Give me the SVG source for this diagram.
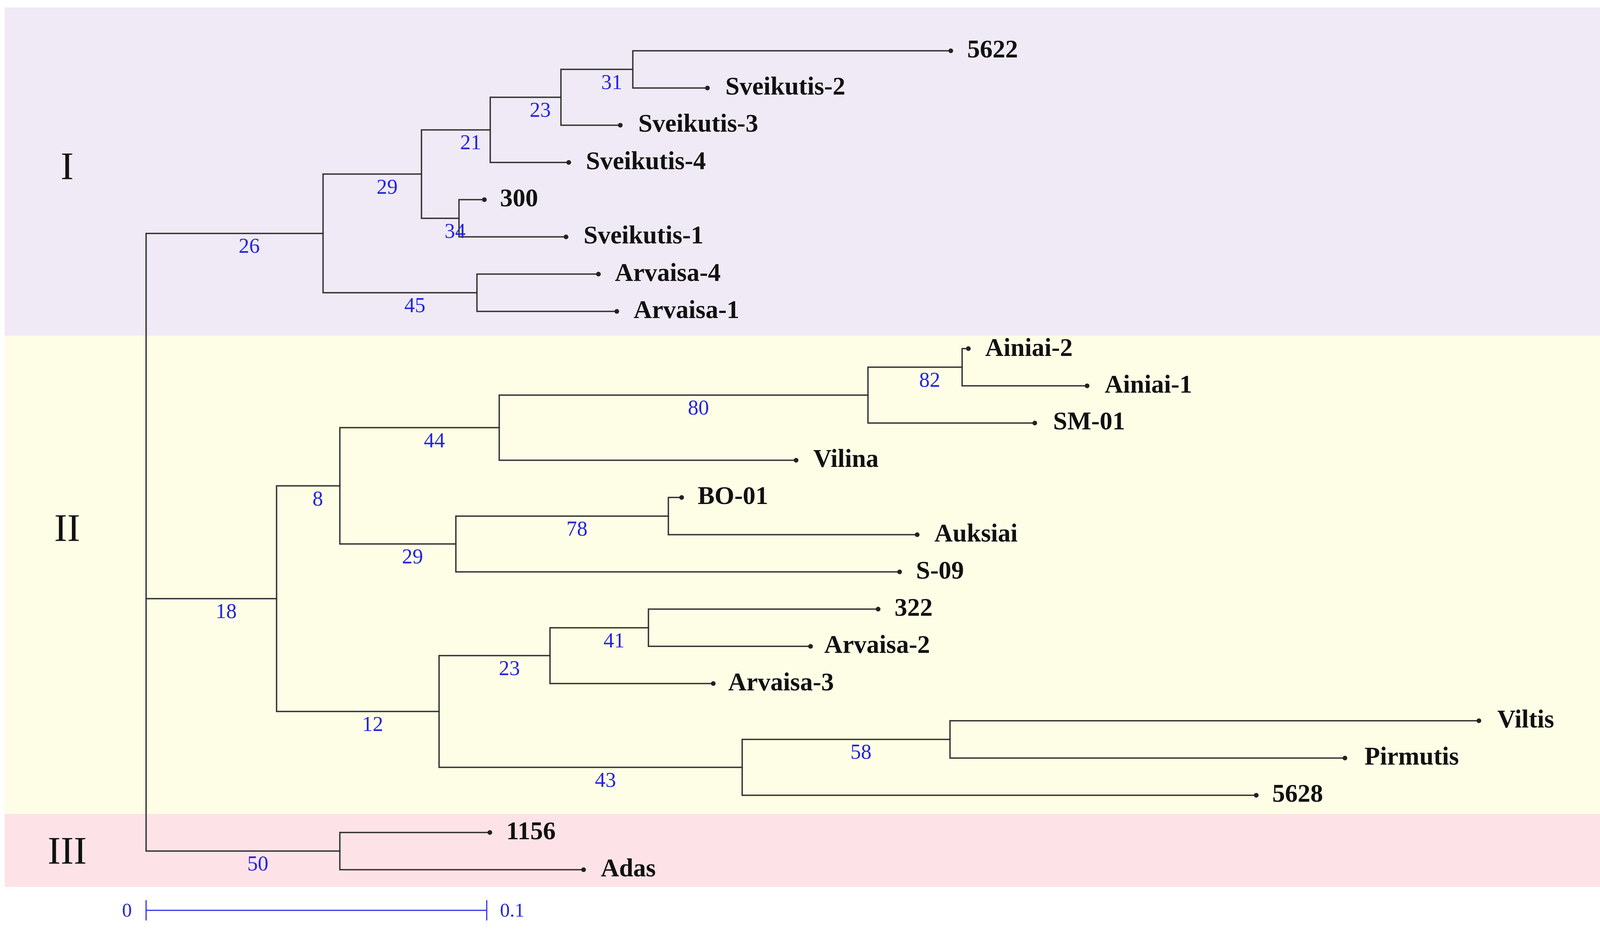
<svg xmlns="http://www.w3.org/2000/svg" width="4123" height="2388" viewBox="0 0 4123 2388">
<style>
.br{fill:none;stroke:#333333;stroke-width:3.5;stroke-linecap:square;stroke-linejoin:miter}
.dot{fill:#222222}
.leaf{font-family:"Liberation Serif","Times New Roman",serif;font-weight:bold;font-size:65px;fill:#111111}
.bs{font-family:"Liberation Serif","Times New Roman",serif;font-size:54px;fill:#2424dd}
.clade{font-family:"Liberation Serif","Times New Roman",serif;font-size:100px;fill:#111111;text-anchor:middle}
.scale{stroke:#3030ee;stroke-width:3;fill:none}
.sl{font-family:"Liberation Serif","Times New Roman",serif;font-size:50px;fill:#2424dd}
</style>
<rect x="0" y="0" width="4123" height="2388" fill="#ffffff"/>
<g id="bands">
<rect x="12" y="19" width="4102" height="840" fill="#EFEAF5"/>
<rect x="12" y="859" width="4102" height="1224" fill="#FEFEE6"/>
<rect x="12" y="2083" width="4102" height="187" fill="#FDE3E7"/>
</g>
<g id="clade-labels">
<text class="clade" x="172" y="458">I</text>
<text class="clade" x="172" y="1384">II</text>
<text class="clade" x="172" y="2210">III</text>
</g>
<g id="connectors">
<path class="br" d="M827 597.4 H374 V2178.3 H870 M374 1532.3 H708"/>
<path class="br" d="M2434 130 H1620 V225.27 H1811"/>
<path class="br" d="M1620 177.6 H1436 V320.54 H1588"/>
<path class="br" d="M1436 249.1 H1255 V415.81 H1456"/>
<path class="br" d="M1240 511.08 H1175 V606.35 H1449"/>
<path class="br" d="M1255 332.4 H1079 V558.7 H1175"/>
<path class="br" d="M1532 701.62 H1221 V796.89 H1579"/>
<path class="br" d="M1079 445.6 H827 V749.3 H1221"/>
<path class="br" d="M2479 892.16 H2463 V987.43 H2783"/>
<path class="br" d="M2463 939.8 H2222 V1082.7 H2649"/>
<path class="br" d="M2222 1011.2 H1278 V1177.97 H2038"/>
<path class="br" d="M1745 1273.24 H1711 V1368.51 H2348"/>
<path class="br" d="M1711 1320.9 H1167 V1463.78 H2303"/>
<path class="br" d="M1278 1094.6 H870 V1392.3 H1167"/>
<path class="br" d="M2248 1559.05 H1660 V1654.32 H2075"/>
<path class="br" d="M1660 1606.7 H1408 V1749.59 H1826"/>
<path class="br" d="M3786 1844.86 H2432 V1940.13 H3443"/>
<path class="br" d="M2432 1892.5 H1900 V2035.4 H3216"/>
<path class="br" d="M1408 1678.1 H1124 V1964 H1900"/>
<path class="br" d="M870 1243.5 H708 V1821 H1124"/>
<path class="br" d="M1254 2130.67 H870 V2225.94 H1494"/>
</g>
<g id="internal-nodes">
<g id="node-A"><text class="bs" x="611" y="647">26</text></g>
<g id="node-B"><text class="bs" x="964" y="496">29</text></g>
<g id="node-C"><text class="bs" x="1178" y="382">21</text></g>
<g id="node-D"><text class="bs" x="1356" y="299">23</text></g>
<g id="node-E"><text class="bs" x="1539" y="228">31</text></g>
<g id="node-F"><text class="bs" x="1138" y="609">34</text></g>
<g id="node-G"><text class="bs" x="1035" y="799">45</text></g>
<g id="node-H"><text class="bs" x="552" y="1582">18</text></g>
<g id="node-I"><text class="bs" x="800" y="1294">8</text></g>
<g id="node-J"><text class="bs" x="1085" y="1145">44</text></g>
<g id="node-K"><text class="bs" x="1761" y="1061">80</text></g>
<g id="node-L"><text class="bs" x="2353" y="990">82</text></g>
<g id="node-M"><text class="bs" x="1029" y="1442">29</text></g>
<g id="node-N"><text class="bs" x="1450" y="1371">78</text></g>
<g id="node-O"><text class="bs" x="927" y="1871">12</text></g>
<g id="node-P"><text class="bs" x="1277" y="1728">23</text></g>
<g id="node-Q"><text class="bs" x="1545" y="1657">41</text></g>
<g id="node-R"><text class="bs" x="1523" y="2014">43</text></g>
<g id="node-S"><text class="bs" x="2177" y="1942">58</text></g>
<g id="node-T"><text class="bs" x="633" y="2228">50</text></g>
</g>
<g id="leaves">
<g id="leaf-5622"><circle class="dot" cx="2434" cy="130" r="6"/><text class="leaf" x="2476" y="147">5622</text></g>
<g id="leaf-sveikutis-2"><circle class="dot" cx="1811" cy="225.27" r="6"/><text class="leaf" x="1857" y="242">Sveikutis-2</text></g>
<g id="leaf-sveikutis-3"><circle class="dot" cx="1588" cy="320.54" r="6"/><text class="leaf" x="1634" y="337">Sveikutis-3</text></g>
<g id="leaf-sveikutis-4"><circle class="dot" cx="1456" cy="415.81" r="6"/><text class="leaf" x="1500" y="433">Sveikutis-4</text></g>
<g id="leaf-300"><circle class="dot" cx="1240" cy="511.08" r="6"/><text class="leaf" x="1280" y="528">300</text></g>
<g id="leaf-sveikutis-1"><circle class="dot" cx="1449" cy="606.35" r="6"/><text class="leaf" x="1494" y="623">Sveikutis-1</text></g>
<g id="leaf-arvaisa-4"><circle class="dot" cx="1532" cy="701.62" r="6"/><text class="leaf" x="1574" y="719">Arvaisa-4</text></g>
<g id="leaf-arvaisa-1"><circle class="dot" cx="1579" cy="796.89" r="6"/><text class="leaf" x="1622" y="814">Arvaisa-1</text></g>
<g id="leaf-ainiai-2"><circle class="dot" cx="2479" cy="892.16" r="6"/><text class="leaf" x="2522" y="911">Ainiai-2</text></g>
<g id="leaf-ainiai-1"><circle class="dot" cx="2783" cy="987.43" r="6"/><text class="leaf" x="2828" y="1005">Ainiai-1</text></g>
<g id="leaf-sm-01"><circle class="dot" cx="2649" cy="1082.7" r="6"/><text class="leaf" x="2696" y="1099">SM-01</text></g>
<g id="leaf-vilina"><circle class="dot" cx="2038" cy="1177.97" r="6"/><text class="leaf" x="2082" y="1195">Vilina</text></g>
<g id="leaf-bo-01"><circle class="dot" cx="1745" cy="1273.24" r="6"/><text class="leaf" x="1786" y="1290">BO-01</text></g>
<g id="leaf-auksiai"><circle class="dot" cx="2348" cy="1368.51" r="6"/><text class="leaf" x="2392" y="1386">Auksiai</text></g>
<g id="leaf-s-09"><circle class="dot" cx="2303" cy="1463.78" r="6"/><text class="leaf" x="2345" y="1481">S-09</text></g>
<g id="leaf-322"><circle class="dot" cx="2248" cy="1559.05" r="6"/><text class="leaf" x="2290" y="1576">322</text></g>
<g id="leaf-arvaisa-2"><circle class="dot" cx="2075" cy="1654.32" r="6"/><text class="leaf" x="2110" y="1671">Arvaisa-2</text></g>
<g id="leaf-arvaisa-3"><circle class="dot" cx="1826" cy="1749.59" r="6"/><text class="leaf" x="1864" y="1767">Arvaisa-3</text></g>
<g id="leaf-viltis"><circle class="dot" cx="3786" cy="1844.86" r="6"/><text class="leaf" x="3833" y="1862">Viltis</text></g>
<g id="leaf-pirmutis"><circle class="dot" cx="3443" cy="1940.13" r="6"/><text class="leaf" x="3493" y="1957">Pirmutis</text></g>
<g id="leaf-5628"><circle class="dot" cx="3216" cy="2035.4" r="6"/><text class="leaf" x="3257" y="2052">5628</text></g>
<g id="leaf-1156"><circle class="dot" cx="1254" cy="2130.67" r="6"/><text class="leaf" x="1296" y="2148">1156</text></g>
<g id="leaf-adas"><circle class="dot" cx="1494" cy="2225.94" r="6"/><text class="leaf" x="1538" y="2243">Adas</text></g>
</g>
<g id="scale-bar">
<path class="scale" d="M374 2330 H1246 M374 2304 V2356 M1246 2304 V2356"/>
<text class="sl" x="325" y="2346" text-anchor="middle">0</text>
<text class="sl" x="1280" y="2346">0.1</text>
</g>
</svg>
